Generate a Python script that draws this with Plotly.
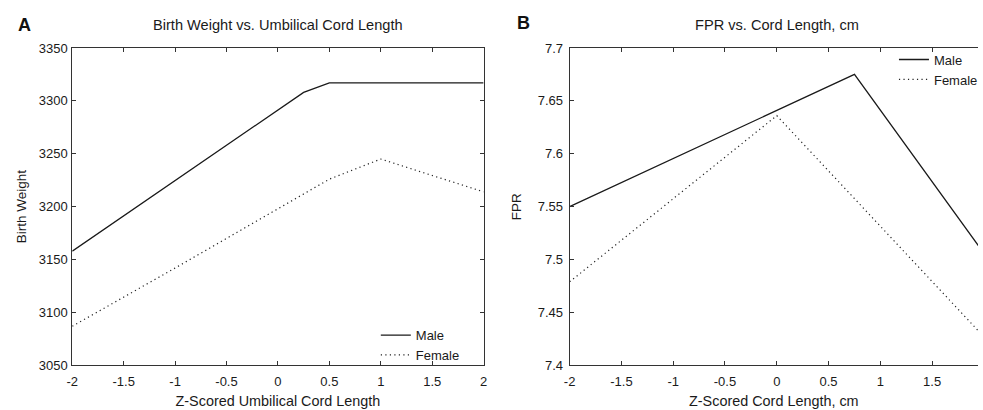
import plotly.graph_objects as go

# ---- data ----
bw_x_male = [-2, 0.25, 0.5, 2]
bw_y_male = [3158, 3308, 3317, 3317]
bw_x_female = [-2, -1, 0, 0.5, 1, 2]
bw_y_female = [3087, 3142, 3198, 3226, 3245, 3214]

fpr_x_male = [-2, 0.75, 2]
fpr_y_male = [7.550, 7.675, 7.506]
fpr_x_female = [-2, 0, 2]
fpr_y_female = [7.479, 7.636, 7.427]

x_ticks = [-2, -1.5, -1, -0.5, 0, 0.5, 1, 1.5, 2]
x_tick_text = ["-2", "-1.5", "-1", "-0.5", "0", "0.5", "1", "1.5", "2"]
bw_ticks = [3050, 3100, 3150, 3200, 3250, 3300, 3350]
fpr_ticks = [7.4, 7.45, 7.5, 7.55, 7.6, 7.65, 7.7]
fpr_tick_text = ["7.4", "7.45", "7.5", "7.55", "7.6", "7.65", "7.7"]

W, H = 983, 410
FONT = "Liberation Sans, Arial, sans-serif"
TXT = "#1a1a1a"
AX = "#333333"

fig = go.Figure()
solid = dict(color="#1a1a1a", width=1.3)
dotted = dict(color="#222222", width=1.2, dash="1.2px,3.3px")

fig.add_trace(go.Scatter(x=bw_x_male, y=bw_y_male, mode="lines", name="Male",
                         line=solid, xaxis="x", yaxis="y", legend="legend"))
fig.add_trace(go.Scatter(x=bw_x_female, y=bw_y_female, mode="lines", name="Female",
                         line=dotted, xaxis="x", yaxis="y", legend="legend"))
fig.add_trace(go.Scatter(x=fpr_x_male, y=fpr_y_male, mode="lines", name="Male",
                         line=solid, xaxis="x2", yaxis="y2", legend="legend2"))
fig.add_trace(go.Scatter(x=fpr_x_female, y=fpr_y_female, mode="lines", name="Female",
                         line=dotted, xaxis="x2", yaxis="y2", legend="legend2"))

ytop = 1 - 42.5 / H
ybot = 1 - 372 / H
xA0, xA1 = 67 / W, 483 / W
xB0 = 570 / W
px_per_unit_B = (989 - 570) / 4
xB_max = -2 + (W - 570) / px_per_unit_B

axis_common = dict(showline=True, linecolor=AX, linewidth=1, ticks="inside", ticklen=4,
                   tickcolor=AX, showgrid=False, zeroline=False,
                   tickfont=dict(family=FONT, size=13, color=TXT))

fig.update_layout(
    width=W, height=H, margin=dict(l=0, r=0, t=0, b=0),
    paper_bgcolor="white", plot_bgcolor="white",
    font=dict(family=FONT, color=TXT),
    xaxis=dict(domain=[xA0, xA1], range=[-2, 2], tickvals=x_ticks, ticktext=x_tick_text,
               mirror="ticks", anchor="y", ticklabelstandoff=4,
               title=dict(text="Z-Scored Umbilical Cord Length", font=dict(size=14.4, color=TXT), standoff=7),
               **axis_common),
    yaxis=dict(domain=[ybot, ytop], range=[3050, 3350], tickvals=bw_ticks, mirror="ticks", anchor="x",
               title=dict(text="Birth Weight", font=dict(size=13.5, color=TXT), standoff=8),
               ticklabelstandoff=1,
               **axis_common),
    xaxis2=dict(domain=[xB0, 1.0], range=[-2, xB_max], tickvals=x_ticks, ticktext=x_tick_text,
                mirror="ticks", anchor="y2", ticklabelstandoff=4,
                title=dict(text="Z-Scored Cord Length, cm", font=dict(size=14.4, color=TXT), standoff=7),
                **axis_common),
    yaxis2=dict(domain=[ybot, ytop], range=[7.4, 7.7], tickvals=fpr_ticks, ticktext=fpr_tick_text,
                mirror=False, anchor="x2",
                title=dict(text="FPR", font=dict(size=13.5, color=TXT), standoff=12),
                ticklabelstandoff=3,
                **axis_common),
    legend=dict(x=374 / W, y=1 - 325 / H, xanchor="left", yanchor="top",
                bgcolor="rgba(0,0,0,0)", font=dict(family=FONT, size=13, color=TXT),
                tracegroupgap=0, itemwidth=30),
    legend2=dict(x=898 / W, y=1 - 39 / H, xanchor="left", yanchor="top",
                 bgcolor="rgba(0,0,0,0)", font=dict(family=FONT, size=13, color=TXT),
                 tracegroupgap=0, itemwidth=30),
    annotations=[
        dict(text="Birth Weight vs. Umbilical Cord Length", x=(xA0 + xA1) / 2, y=1 - 19 / H,
             xref="paper", yref="paper", xanchor="center", yanchor="middle",
             showarrow=False, font=dict(size=14.6, color=TXT)),
        dict(text="FPR vs. Cord Length, cm", x=(570 + 989) / 2 / W, y=1 - 19 / H,
             xref="paper", yref="paper", xanchor="center", yanchor="middle",
             showarrow=False, font=dict(size=14.6, color=TXT)),
        dict(text="<b>A</b>", x=19 / W, y=1 - 19 / H, xref="paper", yref="paper",
             xanchor="center", yanchor="middle",
             showarrow=False, font=dict(size=18, color="#111")),
        dict(text="<b>B</b>", x=523 / W, y=1 - 17 / H, xref="paper", yref="paper",
             xanchor="center", yanchor="middle",
             showarrow=False, font=dict(size=18, color="#111")),
    ],
)

fig.write_html("out.html")
